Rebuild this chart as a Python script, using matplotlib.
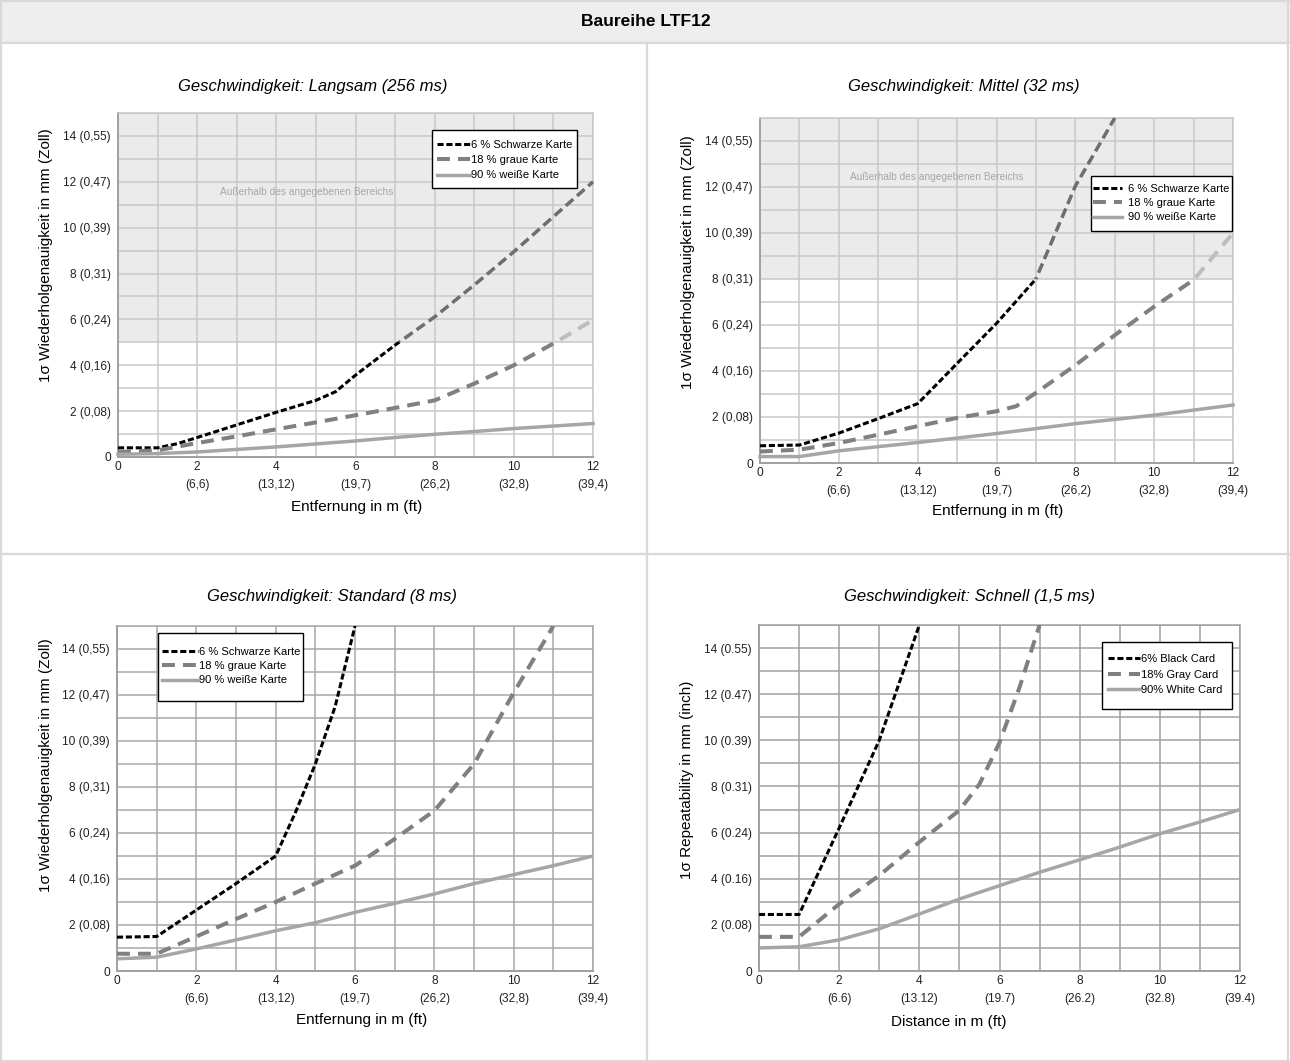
import matplotlib
matplotlib.use('Agg')
from matplotlib import pyplot as plt
import matplotlib.patches as mpatches
from matplotlib.lines import Line2D

plt.rcParams['font.family'] = ['Liberation Sans', 'DejaVu Sans']

W, H = 1290, 1062

# ---- data (distance in m, repeatability in mm) ----
# Langsam (256 ms)
slow_black_x = [0, 1, 1.5, 2, 3, 4, 5, 5.5, 6, 7, 8, 9, 10, 11, 12]
slow_black_y = [0.4, 0.4, 0.58, 0.85, 1.4, 1.95, 2.47, 2.85, 3.57, 4.88, 6.11, 7.5, 8.95, 10.48, 12.0]
slow_gray_x = [0, 1, 2, 3, 4, 5, 6, 7, 8, 9, 10, 11, 12]
slow_gray_y = [0.22, 0.29, 0.61, 0.9, 1.21, 1.51, 1.82, 2.14, 2.47, 3.2, 4.0, 4.95, 5.97]
slow_white_x = [0, 1, 2, 3, 4, 5, 6, 7, 8, 9, 10, 11, 12]
slow_white_y = [0.12, 0.15, 0.22, 0.33, 0.44, 0.57, 0.7, 0.85, 0.99, 1.11, 1.24, 1.35, 1.46]

# Mittel (32 ms)
mid_black_x = [0, 1, 2, 3, 4, 4.5, 5, 6, 7, 8, 9]
mid_black_y = [0.75, 0.78, 1.3, 1.93, 2.58, 3.45, 4.33, 6.07, 8.0, 12.04, 15.0]
mid_gray_x = [0, 1, 2, 3, 4, 5, 6, 6.5, 7, 8, 9, 10, 11, 11.5, 12]
mid_gray_y = [0.5, 0.58, 0.87, 1.23, 1.6, 1.96, 2.25, 2.47, 3.05, 4.25, 5.56, 6.8, 7.96, 8.98, 10.0]
mid_white_x = [0, 1, 2, 4, 6, 8, 10, 12]
mid_white_y = [0.28, 0.28, 0.53, 0.89, 1.28, 1.71, 2.08, 2.52]

# Standard (8 ms)
std_black_x = [0, 1, 2, 3, 4, 4.5, 5, 5.5, 6]
std_black_y = [1.47, 1.5, 2.65, 3.8, 5.0, 6.9, 9.0, 11.5, 15.0]
std_gray_x = [0, 1, 2, 3, 4, 5, 6, 7, 8, 9, 10, 11]
std_gray_y = [0.75, 0.75, 1.5, 2.26, 3.0, 3.8, 4.58, 5.74, 6.97, 9.0, 12.1, 15.0]
std_white_x = [0, 1, 2, 3, 4, 5, 6, 7, 8, 9, 10, 11, 12]
std_white_y = [0.53, 0.6, 0.96, 1.35, 1.75, 2.1, 2.55, 2.94, 3.35, 3.8, 4.19, 4.58, 5.0]

# Schnell (1,5 ms)
fast_black_x = [0, 1, 2, 3, 4]
fast_black_y = [2.45, 2.45, 6.2, 10.0, 15.0]
fast_gray_x = [0, 1, 2, 3, 4, 5, 5.5, 6, 6.5, 7]
fast_gray_y = [1.48, 1.48, 2.9, 4.14, 5.59, 6.97, 8.1, 9.9, 12.3, 15.0]
fast_white_x = [0, 1, 2, 3, 4, 5, 6, 7, 8, 9, 10, 11, 12]
fast_white_y = [1.0, 1.05, 1.35, 1.83, 2.47, 3.12, 3.7, 4.28, 4.82, 5.37, 5.95, 6.46, 7.0]

y_ticks = [0, 2, 4, 6, 8, 10, 12, 14]
y_inch_de = ['0', '2 (0,08)', '4 (0,16)', '6 (0,24)', '8 (0,31)', '10 (0,39)', '12 (0,47)', '14 (0,55)']
y_inch_en = ['0', '2 (0.08)', '4 (0.16)', '6 (0.24)', '8 (0.31)', '10 (0.39)', '12 (0.47)', '14 (0.55)']
x_ticks = [0, 2, 4, 6, 8, 10, 12]
x_ft_de = ['0', '2\n(6,6)', '4\n(13,12)', '6\n(19,7)', '8\n(26,2)', '10\n(32,8)', '12\n(39,4)']
x_ft_en = ['0', '2\n(6.6)', '4\n(13.12)', '6\n(19.7)', '8\n(26.2)', '10\n(32.8)', '12\n(39.4)']

labels_de = ['6 % Schwarze Karte', '18 % graue Karte', '90 % weiße Karte']
labels_en = ['6% Black Card', '18% Gray Card', '90% White Card']

BLACK = dict(color='black', lw=2.2, linestyle=(0, (2.0, 0.9)))
GRAY = dict(color='#808080', lw=2.9, linestyle=(0, (3.2, 2.0)))
WHITE = dict(color='#a6a6a6', lw=2.5, linestyle='-')
BLACK_OUT = dict(color='#6e6e6e', lw=2.5, linestyle=(0, (2.9, 1.4)))
GRAY_OUT = dict(color='#bdbdbd', lw=2.9, linestyle=(0, (3.2, 2.0)))


def px_rect(l, t, r, b):
    return [l / W, 1 - b / H, (r - l) / W, (b - t) / H]


fig = plt.figure(figsize=(W / 100, H / 100), dpi=100)

# table look: header band and cell borders
fig.patches.append(mpatches.Rectangle((0, 1 - 43 / H), 1, 43 / H, transform=fig.transFigure,
                                      facecolor='#eeeeee', edgecolor='none', zorder=0))
bc = '#d9d9d9'
for y in [1 - 1 / H, 1 - 43 / H, 1 - 554 / H, 0.001]:
    fig.add_artist(Line2D([0, 1], [y, y], transform=fig.transFigure, color=bc, lw=1.6))
fig.add_artist(Line2D([0.001, 0.001], [0, 1], transform=fig.transFigure, color=bc, lw=1.6))
fig.add_artist(Line2D([1288 / W, 1288 / W], [0, 1], transform=fig.transFigure, color=bc, lw=1.6))
fig.add_artist(Line2D([647 / W, 647 / W], [0, 1 - 43 / H], transform=fig.transFigure, color=bc, lw=1.6))
fig.text(646 / W, 1 - 22 / H, 'Baureihe LTF12', ha='center', va='center',
         fontsize=12.5, fontweight='bold')


def panel(rect, series, thr, grid_col, labels, yt, xt, leg_anchor, leg_box, spacing, textpad,
          hlen, out_text):
    ax = fig.add_axes(px_rect(*rect))
    ax.set_xlim(0, 12)
    ax.set_ylim(0, 15)
    ax.set_xticks(x_ticks)
    ax.set_xticklabels(xt, linespacing=1.6)
    ax.set_xticks(range(0, 13), minor=True)
    ax.set_yticks(y_ticks)
    ax.set_yticklabels(yt)
    ax.set_yticks(range(0, 16), minor=True)
    ax.tick_params(which='both', length=0, labelsize=8.6, colors='#222222')
    ax.tick_params(axis='y', pad=5)
    ax.tick_params(axis='x', pad=3)
    ax.set_axisbelow(True)
    ax.grid(True, which='both', color=grid_col, lw=1.1)
    for s in ax.spines.values():
        s.set_color(grid_col)
        s.set_linewidth(1.1)
    for side in ['left', 'bottom']:
        ax.spines[side].set_color('#a0a0a0')
        ax.spines[side].set_linewidth(1.4)

    if thr is not None:
        ax.axhspan(thr, 15, color='#ebebeb', zorder=0.2, lw=0)
        ax.text(out_text[0], out_text[1], 'Außerhalb des angegebenen Bereichs', ha='center',
                va='center', fontsize=7.3, color='#a6a6a6', zorder=0.6)

    styles = [BLACK, GRAY, WHITE]
    outs = [BLACK_OUT, GRAY_OUT, WHITE]
    for (xs, ys), st, so in zip(series, styles, outs):
        ln, = ax.plot(xs, ys, zorder=3, **st)
        if thr is not None:
            low = mpatches.Rectangle((-1, -1), 14, thr + 1, transform=ax.transData)
            ln.set_clip_path(low)
            hi, = ax.plot(xs, ys, zorder=3, **so)
            up = mpatches.Rectangle((-1, thr), 14, 20, transform=ax.transData)
            hi.set_clip_path(up)

    # legend frame drawn by hand inside the axes, entries placed without frame
    l, t, r, b = leg_box
    ax.add_patch(mpatches.Rectangle((l / W, 1 - b / H), (r - l) / W, (b - t) / H,
                                    transform=fig.transFigure, facecolor='white',
                                    edgecolor='black', lw=1.0, zorder=4, clip_on=False))
    handles = [Line2D([], [], **s) for s in styles]
    leg = ax.legend(handles, labels, loc='upper left',
                    bbox_to_anchor=(leg_anchor[0] / W, 1 - leg_anchor[1] / H),
                    bbox_transform=fig.transFigure, borderaxespad=0, borderpad=0,
                    fontsize=8, frameon=False, handlelength=hlen, handletextpad=textpad,
                    labelspacing=spacing)
    leg.set_zorder(5)
    return ax


panel((118, 113, 593, 457),
      [(slow_black_x, slow_black_y), (slow_gray_x, slow_gray_y), (slow_white_x, slow_white_y)],
      5, '#c8c8c8', labels_de, y_inch_de, x_ft_de, (437, 140), (432, 130, 577, 188),
      0.47, 0.15, 2.95, (4.77, 11.55))
panel((760, 118, 1233, 463),
      [(mid_black_x, mid_black_y), (mid_gray_x, mid_gray_y), (mid_white_x, mid_white_y)],
      8, '#c8c8c8', labels_de, y_inch_de, x_ft_de, (1093, 184), (1091, 176, 1232, 231),
      0.38, 0.55, 2.6, (4.49, 12.43))
panel((117, 626, 593, 971),
      [(std_black_x, std_black_y), (std_gray_x, std_gray_y), (std_white_x, std_white_y)],
      None, '#a8a8a8', labels_de, y_inch_de, x_ft_de, (162, 647), (158, 633, 303, 701),
      0.38, 0.1, 3.2, None)
panel((759, 625, 1240, 971),
      [(fast_black_x, fast_black_y), (fast_gray_x, fast_gray_y), (fast_white_x, fast_white_y)],
      None, '#a0a0a0', labels_en, y_inch_en, x_ft_en, (1108, 654), (1102, 642, 1232, 709),
      0.5, 0.15, 2.85, None)

# panel titles
titles = [('Geschwindigkeit: Langsam (256 ms)', 313, 87),
          ('Geschwindigkeit: Mittel (32 ms)', 964, 87),
          ('Geschwindigkeit: Standard (8 ms)', 332, 596),
          ('Geschwindigkeit: Schnell (1,5 ms)', 969, 596)]
for t, x, y in titles:
    fig.text(x / W, 1 - y / H, t, ha='center', va='center', fontsize=12, style='italic')

# axis labels
ylab_de = '1σ Wiederholgenauigkeit in mm (Zoll)'
for t, x, y in [(ylab_de, 46, 255), (ylab_de, 688, 262), (ylab_de, 46, 765),
                ('1σ Repeatability in mm (inch)', 687, 780)]:
    fig.text(x / W, 1 - y / H, t, ha='center', va='center', rotation=90, fontsize=11)
for t, x, y in [('Entfernung in m (ft)', 357, 507), ('Entfernung in m (ft)', 998, 511),
                ('Entfernung in m (ft)', 362, 1020), ('Distance in m (ft)', 949, 1022)]:
    fig.text(x / W, 1 - y / H, t, ha='center', va='center', fontsize=11)

fig.savefig('out.png', dpi=100)
